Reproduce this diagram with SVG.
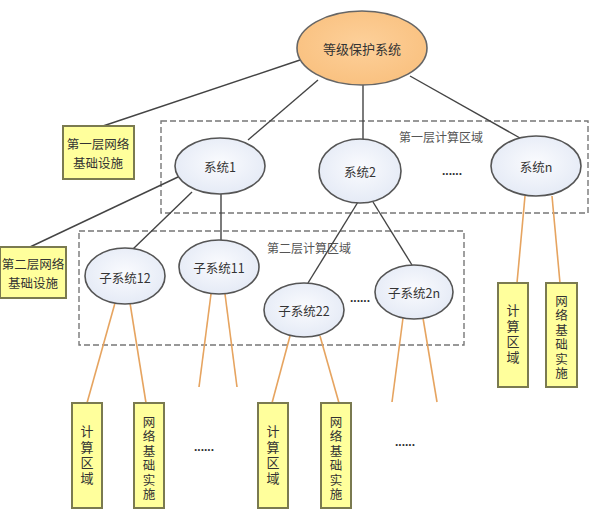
<svg xmlns="http://www.w3.org/2000/svg" width="592" height="531" viewBox="0 0 592 531">
<defs>
<radialGradient id="gBlue" cx="50%" cy="45%" r="60%">
<stop offset="0%" stop-color="#FAFBFE"/>
<stop offset="100%" stop-color="#E3E9F5"/>
</radialGradient>
<radialGradient id="gOrange" cx="50%" cy="45%" r="60%">
<stop offset="0%" stop-color="#FDD09A"/>
<stop offset="100%" stop-color="#F9C07E"/>
</radialGradient>
</defs>
<style>
.t{font-family:"Noto Sans CJK SC","Liberation Serif",serif;font-size:12.5px;fill:#333;text-anchor:middle;dominant-baseline:central}
.v4{font-family:"Noto Sans CJK SC","Liberation Serif",serif;font-size:13px;letter-spacing:2.5px;fill:#333;text-anchor:middle;writing-mode:vertical-rl}
.v6{font-family:"Noto Sans CJK SC","Liberation Serif",serif;font-size:12.5px;letter-spacing:2px;fill:#333;text-anchor:middle;writing-mode:vertical-rl}
.lab{font-family:"Noto Sans CJK SC","Liberation Serif",serif;font-size:12px;fill:#555;text-anchor:middle;dominant-baseline:central}
.dots{font-family:"Liberation Sans",sans-serif;font-size:12px;fill:#333;text-anchor:middle;font-weight:bold}
.ell{fill:url(#gBlue);stroke:#555;stroke-width:1.6}
.box{fill:#FFFF9C;stroke:#7A7A50;stroke-width:2}
.ln{stroke:#444;stroke-width:1.4;fill:none}
.ol{stroke:#E6A460;stroke-width:1.6;fill:none}
.dash{fill:none;stroke:#777;stroke-width:1.4;stroke-dasharray:6,3}
</style>
<rect width="592" height="531" fill="#fff"/>
<g id="regions">
<rect class="dash" x="161" y="121" width="427" height="92"/>
<rect class="dash" x="79" y="231" width="385" height="114"/>
<text class="lab" x="441" y="136">第一层计算区域</text>
<text class="lab" x="309" y="247">第二层计算区域</text>
</g>
<g id="connectors">
<line class="ln" x1="300" y1="60" x2="103" y2="126"/>
<line class="ln" x1="318" y1="80" x2="248" y2="140"/>
<line class="ln" x1="363" y1="85" x2="363" y2="139"/>
<line class="ln" x1="410" y1="76" x2="520" y2="138"/>
<line class="ln" x1="178" y1="177" x2="30" y2="247"/>
<line class="ln" x1="192" y1="192" x2="133" y2="249"/>
<line class="ln" x1="221" y1="194" x2="221" y2="240"/>
<line class="ln" x1="358" y1="202" x2="308" y2="283"/>
<line class="ln" x1="373" y1="202" x2="412" y2="265"/>
<line class="ol" x1="525" y1="196" x2="517" y2="283"/>
<line class="ol" x1="552" y1="196" x2="560" y2="283"/>
<line class="ol" x1="115" y1="303" x2="87" y2="403"/>
<line class="ol" x1="130" y1="303" x2="146" y2="403"/>
<line class="ol" x1="211" y1="294" x2="199" y2="387"/>
<line class="ol" x1="225" y1="294" x2="237" y2="387"/>
<line class="ol" x1="290" y1="336" x2="272" y2="403"/>
<line class="ol" x1="320" y1="336" x2="339" y2="403"/>
<line class="ol" x1="403" y1="318" x2="392" y2="402"/>
<line class="ol" x1="423" y1="318" x2="437" y2="402"/>
</g>
<g id="root">
<ellipse cx="362" cy="48" rx="65" ry="37" fill="url(#gOrange)" stroke="#666" stroke-width="1.6"/>
<text class="t" x="362" y="48" style="font-size:13px">等级保护系统</text>
</g>
<g id="infra1">
<rect class="box" x="63" y="126" width="71" height="53"/>
<text class="t" x="98" y="143">第一层网络</text>
<text class="t" x="98" y="162">基础设施</text>
</g>
<g id="infra2">
<rect class="box" x="0" y="247" width="66" height="51"/>
<text class="t" x="33" y="263">第二层网络</text>
<text class="t" x="33" y="282">基础设施</text>
</g>
<g id="sys1">
<ellipse class="ell" cx="220" cy="166" rx="45" ry="28"/>
<text class="t" x="220" y="166">系统1</text>
</g>
<g id="sys2">
<ellipse class="ell" cx="360" cy="171" rx="41" ry="32"/>
<text class="t" x="360" y="171">系统2</text>
</g>
<text class="dots" x="452" y="175">......</text>
<g id="sysn">
<ellipse class="ell" cx="536" cy="166" rx="45" ry="30"/>
<text class="t" x="536" y="166">系统n</text>
</g>
<g id="sub12">
<ellipse class="ell" cx="125" cy="276" rx="40" ry="28"/>
<text class="t" x="125" y="277">子系统12</text>
</g>
<g id="sub11">
<ellipse class="ell" cx="219" cy="267" rx="40" ry="27"/>
<text class="t" x="219" y="267">子系统11</text>
</g>
<g id="sub22">
<ellipse class="ell" cx="304" cy="310" rx="40" ry="27"/>
<text class="t" x="304" y="310">子系统22</text>
</g>
<text class="dots" x="360" y="302">......</text>
<g id="sub2n">
<ellipse class="ell" cx="414" cy="292" rx="39" ry="27"/>
<text class="t" x="414" y="292">子系统2n</text>
</g>
<g id="calc-n">
<rect class="box" x="498" y="283" width="30" height="104"/>
<text class="v4" x="513" y="335">计算区域</text>
</g>
<g id="net-n">
<rect class="box" x="546" y="283" width="31" height="104"/>
<text class="v6" x="561.5" y="338">网络基础实施</text>
</g>
<g id="calc-12">
<rect class="box" x="72" y="403" width="30" height="105"/>
<text class="v4" x="87" y="456">计算区域</text>
</g>
<g id="net-12">
<rect class="box" x="134" y="403" width="30" height="105"/>
<text class="v6" x="149" y="459">网络基础实施</text>
</g>
<text class="dots" x="204" y="451">......</text>
<g id="calc-22">
<rect class="box" x="258" y="403" width="30" height="105"/>
<text class="v4" x="273" y="456">计算区域</text>
</g>
<g id="net-22">
<rect class="box" x="321" y="403" width="30" height="105"/>
<text class="v6" x="336" y="459">网络基础实施</text>
</g>
<text class="dots" x="405" y="446">......</text>
</svg>
